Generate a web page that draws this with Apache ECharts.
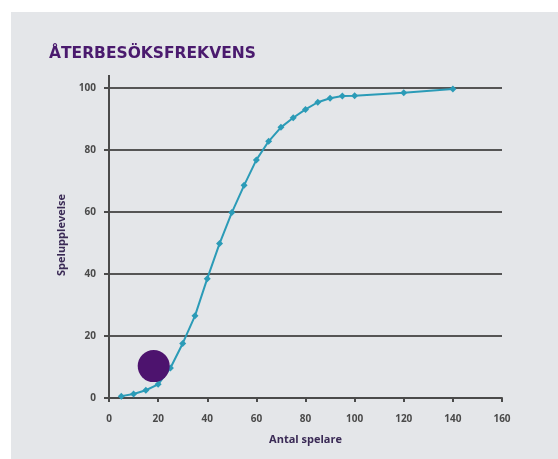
<!DOCTYPE html>
<html>
<head>
<meta charset="utf-8">
<script src="https://cdn.jsdelivr.net/npm/echarts@6/dist/echarts.min.js"></script>
<style>
  html, body { margin: 0; padding: 0; background: #ffffff; }
  #chart { width: 558px; height: 459px; }
</style>
</head>
<body>
<div id="chart"></div>
<script>
// Antal spelare (x) and Spelupplevelse (y) for the S-curve
const players = [5, 10, 15, 20, 25, 30, 35, 40, 45, 50, 55, 60, 65, 70, 75, 80, 85, 90, 95, 100, 120, 140];
const experience = [0.6, 1.3, 2.5, 4.4, 9.7, 17.6, 26.5, 38.5, 49.8, 59.8, 68.6, 76.8, 82.8, 87.3, 90.4, 93.1, 95.4, 96.7, 97.4, 97.5, 98.5, 99.7];

// Highlighted position on the curve
const highlightX = [18.2];
const highlightY = [10.3];

const xTicks = { min: 0, max: 160, interval: 20 };
const yTicks = { min: 0, max: 100, interval: 20 };

const chart = echarts.init(document.getElementById('chart'), null, { renderer: 'canvas' });

const axisColor = '#4a4a4a';
const labelStyle = { color: '#4a4a4a', fontSize: 10, fontWeight: 'bold', fontFamily: 'Open Sans' };

chart.setOption({
  animation: false,
  graphic: [
    { type: 'rect', left: 11, top: 12, shape: { width: 547, height: 447 }, style: { fill: '#e4e6e9' }, z: -10 },
    { type: 'text', x: 49, y: 54, style: { text: 'ÅTERBESÖKSFREKVENS', fill: '#4a1a6e', font: 'bold 15.5px "DejaVu Sans"', verticalAlign: 'middle' } },
    { type: 'line', shape: { x1: 109, y1: 75, x2: 109, y2: 398 }, style: { stroke: axisColor, lineWidth: 2 }, z: 5 }
  ],
  grid: { left: 109, right: 56, top: 88, bottom: 61 },
  xAxis: {
    type: 'value', min: xTicks.min, max: xTicks.max, interval: xTicks.interval,
    name: 'Antal spelare', nameLocation: 'middle', nameGap: 36,
    nameTextStyle: { color: '#3a2a55', fontSize: 11, fontWeight: 'bold', fontFamily: 'Open Sans' },
    axisLine: { show: true, onZero: false, lineStyle: { color: axisColor, width: 2 } },
    axisTick: { show: true, length: 4, lineStyle: { color: axisColor, width: 2 } },
    axisLabel: Object.assign({ margin: 16 }, labelStyle),
    splitLine: { show: false }
  },
  yAxis: {
    type: 'value', min: yTicks.min, max: yTicks.max, interval: yTicks.interval,
    name: 'Spelupplevelse', nameLocation: 'middle', nameGap: 42, nameRotate: 90,
    nameTextStyle: { color: '#3a2a55', fontSize: 11, fontWeight: 'bold', fontFamily: 'Open Sans', padding: [0, 0, 0, 16] },
    axisLine: { show: false },
    axisTick: { show: true, length: 5, lineStyle: { color: axisColor, width: 2 } },
    axisLabel: Object.assign({ margin: 13 }, labelStyle),
    splitLine: { show: true, lineStyle: { color: '#555555', width: 2 } }
  },
  series: [
    {
      type: 'line',
      data: players.map((x, i) => [x, experience[i]]),
      lineStyle: { color: '#2b9bb7', width: 2 },
      itemStyle: { color: '#2b9bb7' },
      symbol: 'diamond', symbolSize: 7, showSymbol: true,
      z: 3
    },
    {
      type: 'scatter',
      data: highlightX.map((x, i) => [x, highlightY[i]]),
      symbol: 'circle', symbolSize: 32,
      itemStyle: { color: '#4d136e', opacity: 1 },
      z: 4
    }
  ]
});
</script>
</body>
</html>
